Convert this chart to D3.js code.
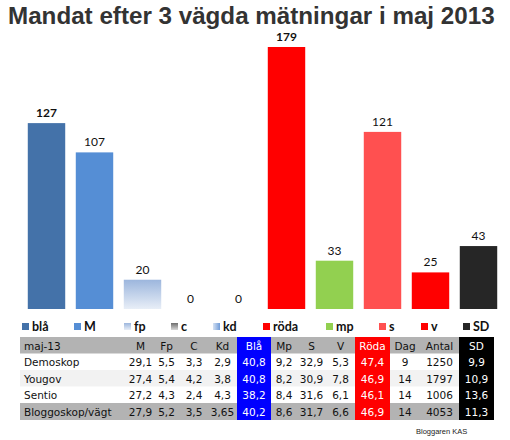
<!DOCTYPE html>
<html>
<head>
<meta charset="utf-8">
<script src="https://cdn.jsdelivr.net/npm/d3@7"></script>
<style>
  body { margin: 0; background: #fff; }
</style>
</head>
<body>
<div id="chart"></div>
<script>
// mandat per block / party
let categories = ['blå', 'M', 'fp', 'c', 'kd', 'röda', 'mp', 's', 'v', 'SD'];
let mandat = [127, 107, 20, 0, 0, 179, 33, 121, 25, 43];
let boldLabels = ['blå', 'röda'];

// poll table
let tableHeader = ['maj-13', 'M', 'Fp', 'C', 'Kd', 'Blå', 'Mp', 'S', 'V', 'Röda', 'Dag', 'Antal', 'SD'];
let tableRows = [
  ['Demoskop', '29,1', '5,5', '3,3', '2,9', '40,8', '9,2', '32,9', '5,3', '47,4', '9', '1250', '9,9'],
  ['Yougov', '27,4', '5,4', '4,2', '3,8', '40,8', '8,2', '30,9', '7,8', '46,9', '14', '1797', '10,9'],
  ['Sentio', '27,2', '4,3', '2,4', '4,3', '38,2', '8,4', '31,6', '6,1', '46,1', '14', '1006', '13,6'],
  ['Bloggoskop/vägt', '27,9', '5,2', '3,5', '3,65', '40,2', '8,6', '31,7', '6,6', '46,9', '14', '4053', '11,3']
];

function drawChart() {
  let width = 510, height = 440;

  let svg = d3.select('#chart').append('svg')
      .attr('width', width)
      .attr('height', height)
      .style('font-family', 'Lato, sans-serif');

  let defs = svg.append('defs');
  let g1 = defs.append('linearGradient').attr('id', 'fpGrad')
      .attr('x1', 0).attr('y1', 0).attr('x2', 0).attr('y2', 1);
  g1.append('stop').attr('offset', '0%').attr('stop-color', '#9cb6dd');
  g1.append('stop').attr('offset', '100%').attr('stop-color', '#e8eef7');
  let g2 = defs.append('linearGradient').attr('id', 'cGrad')
      .attr('x1', 0).attr('y1', 0).attr('x2', 0).attr('y2', 1);
  g2.append('stop').attr('offset', '0%').attr('stop-color', '#6e6e6e');
  g2.append('stop').attr('offset', '100%').attr('stop-color', '#d8d8d8');
  let g3 = defs.append('linearGradient').attr('id', 'kdGrad')
      .attr('x1', 0).attr('y1', 0).attr('x2', 1).attr('y2', 0);
  g3.append('stop').attr('offset', '0%').attr('stop-color', '#d6e2f3');
  g3.append('stop').attr('offset', '100%').attr('stop-color', '#6f9bd8');

  let colors = {
    'blå': '#4472a9', 'M': '#558ed5', 'fp': 'url(#fpGrad)', 'c': 'url(#cGrad)',
    'kd': 'url(#kdGrad)', 'röda': '#ff0000', 'mp': '#92d050', 's': '#ff5050',
    'v': '#ff0000', 'SD': '#262626'
  };

  // title
  svg.append('text')
      .attr('x', 8).attr('y', 24)
      .attr('font-family', '"Liberation Sans", Arial, sans-serif')
      .attr('font-weight', 'bold')
      .attr('font-size', 24.2)
      .attr('fill', '#333')
      .text('Mandat efter 3 vägda mätningar i maj 2013');

  let x = d3.scaleBand()
      .domain(categories)
      .range([22.5, 502.5])
      .paddingInner(0.22)
      .paddingOuter(0.11);

  let y = d3.scaleLinear()
      .domain([0, 179])
      .range([309, 47]);

  let data = categories.map(function(c, i) { return {cat: c, val: mandat[i]} });

  svg.selectAll('rect.bar')
      .data(data)
      .enter()
      .append('rect')
      .attr('class', 'bar')
      .attr('x', function(d) { return x(d.cat) })
      .attr('y', function(d) { return y(d.val) })
      .attr('width', x.bandwidth())
      .attr('height', function(d) { return y(0) - y(d.val) })
      .attr('fill', function(d) { return colors[d.cat] });

  svg.selectAll('text.val')
      .data(data)
      .enter()
      .append('text')
      .attr('class', 'val')
      .attr('x', function(d) { return x(d.cat) + x.bandwidth() / 2 })
      .attr('y', function(d) { return y(d.val) - 6 })
      .attr('text-anchor', 'middle')
      .attr('font-size', 12)
      .attr('font-weight', function(d) { return boldLabels.indexOf(d.cat) >= 0 ? 'bold' : 'normal' })
      .attr('fill', '#111')
      .text(function(d) { return d.val });

  // legend (excel spacing, not even)
  let legendX = [22, 74, 124, 171, 213, 263, 326, 379, 421, 463];
  let legend = svg.selectAll('g.legend')
      .data(data)
      .enter()
      .append('g')
      .attr('class', 'legend')
      .attr('transform', function(d, i) { return 'translate(' + legendX[i] + ',0)' });
  legend.append('rect')
      .attr('x', 0).attr('y', 323)
      .attr('width', 7).attr('height', 7)
      .attr('fill', function(d) { return colors[d.cat] });
  legend.append('text')
      .attr('x', 10).attr('y', 331)
      .attr('font-size', 12.5)
      .attr('font-weight', 'bold')
      .attr('fill', '#111')
      .text(function(d) { return d.cat });

  /* table */
  let colEdges = [20, 128, 153, 180, 208, 237, 271, 297, 326, 355, 390, 420, 459, 494];
  let rowTop = 337, rowH = 16.5;
  let special = {5: '#0000ff', 9: '#ff0000', 12: '#000000'};
  let allRows = [tableHeader].concat(tableRows);

  let table = svg.append('g')
      .attr('font-family', '"DejaVu Sans", Verdana, sans-serif')
      .attr('font-size', 10.5);

  allRows.forEach(function(row, r) {
    let yTop = rowTop + r * rowH;
    let bg = (r == 0 || r == allRows.length - 1) ? '#b3b3b3' : (r == 2 ? '#f2f2f2' : '#ffffff');
    row.forEach(function(cell, c) {
      let fill = special[c] || bg;
      table.append('rect')
          .attr('x', colEdges[c]).attr('y', yTop)
          .attr('width', colEdges[c + 1] - colEdges[c])
          .attr('height', rowH + 0.5)
          .attr('fill', fill);
      let left = c == 0;
      table.append('text')
          .attr('x', left ? colEdges[c] + 4 : (colEdges[c] + colEdges[c + 1]) / 2)
          .attr('y', yTop + 12.5)
          .attr('text-anchor', left ? 'start' : 'middle')
          .attr('fill', special[c] ? '#fff' : '#111')
          .text(cell);
    });
  });

  svg.append('text')
      .attr('x', 416).attr('y', 434)
      .attr('font-family', '"Liberation Sans", Arial, sans-serif')
      .attr('font-size', 7.5)
      .attr('fill', '#222')
      .text('Bloggaren KAS');
}

drawChart();
</script>
</body>
</html>
